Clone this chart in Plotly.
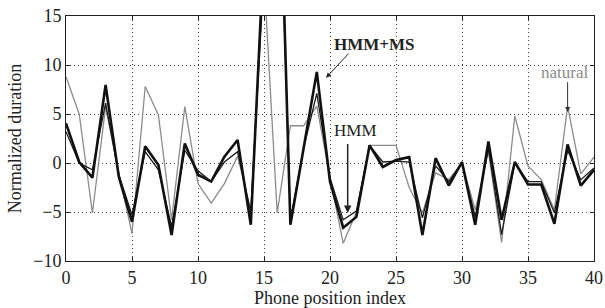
import plotly.graph_objects as go

positions = list(range(41))
natural = [8.8, 5.0, -5.1, 5.7, -1.0, -7.2, 7.8, 4.9, -5.8, 5.75,
           -2.1, -4.1, -2.1, 0.7, -4.8, 19.0, -5.1, 3.8, 3.8, 5.8,
           -1.5, -8.2, -5.0, 1.8, 1.8, 1.8, -2.5, -5.1, -1.0, -1.7,
           0.0, -4.8, 1.2, -8.1, 4.8, -0.3, -1.7, -4.8, 5.8, -1.1, 0.6]
hmm = [3.2, 0.0, -0.7, 6.1, -1.2, -5.3, 1.15, -0.7, -6.5, 1.3,
       -0.8, -1.9, 0.1, 1.15, -5.1, 20.0, 38.0, -5.8, 1.5, 7.1,
       -1.5, -5.8, -4.9, 1.8, 0.1, 0.2, 0.1, -5.6, -0.3, -1.9,
       0.0, -5.5, 1.5, -7.3, 0.0, -1.9, -1.9, -5.1, 1.3, -1.7, -0.5]
hmm_ms = [4.05, 0.1, -1.5, 7.96, -1.4, -6.0, 1.7, -0.2, -7.35, 2.0,
          -1.2, -1.9, 0.65, 2.35, -6.3, 22.0, 40.0, -6.3, 1.5, 9.3,
          -1.9, -6.6, -5.5, 1.8, -0.4, 0.3, 0.6, -7.35, 0.5, -2.3,
          0.1, -6.3, 2.2, -5.8, 0.1, -2.2, -2.2, -6.2, 1.9, -2.3, -0.7]
xticks = [0, 5, 10, 15, 20, 25, 30, 35, 40]
yticks = [-10, -5, 0, 5, 10, 15]

FONT = "Liberation Serif"
INK = "#222222"

fig = go.Figure()
fig.add_trace(go.Scatter(x=positions, y=natural, mode="lines", name="natural",
                         line=dict(color="#8c8c8c", width=1.3)))
fig.add_trace(go.Scatter(x=positions, y=hmm, mode="lines", name="HMM",
                         line=dict(color="#1a1a1a", width=1.3)))
fig.add_trace(go.Scatter(x=positions, y=hmm_ms, mode="lines", name="HMM+MS",
                         line=dict(color="#111111", width=2.6)))

axis_common = dict(showgrid=True, gridcolor="#444444", griddash="1px,3px", gridwidth=1,
                   showline=True, linecolor=INK, linewidth=1, mirror="ticks",
                   ticks="inside", ticklen=4, tickcolor=INK, automargin=False,
                   zeroline=False, tickfont=dict(family=FONT, size=18, color=INK))

fig.update_xaxes(range=[0, 40], tickvals=xticks, **axis_common,
                 title=dict(text="Phone position index", font=dict(family=FONT, size=18, color=INK),
                            standoff=4))
fig.update_yaxes(range=[-10, 15], tickvals=yticks, **axis_common,
                 title=dict(text="Normalized duration", font=dict(family=FONT, size=18, color=INK),
                            standoff=6))

# annotations
fig.add_annotation(x=19.7, y=8.7, ax=21.5, ay=11.3, axref="x", ayref="y",
                   text="", showarrow=True, arrowhead=2, arrowsize=1, arrowwidth=1, arrowcolor=INK)
fig.add_annotation(x=23.4, y=12.1, text="<b>HMM+MS</b>", showarrow=False,
                   font=dict(family=FONT, size=17, color=INK))
fig.add_annotation(x=21.34, y=-5.1, ax=21.34, ay=2.1, axref="x", ayref="y",
                   text="", showarrow=True, arrowhead=2, arrowsize=1, arrowwidth=1.5, arrowcolor=INK)
fig.add_annotation(x=21.9, y=3.3, text="HMM", showarrow=False,
                   font=dict(family=FONT, size=17, color=INK))
fig.add_annotation(x=38.0, y=5.2, ax=38.0, ay=8.4, axref="x", ayref="y",
                   text="", showarrow=True, arrowhead=2, arrowsize=1, arrowwidth=1, arrowcolor="#333333")
fig.add_annotation(x=37.8, y=9.2, text="natural", showarrow=False,
                   font=dict(family=FONT, size=17, color="#8c8c8c"))

fig.update_layout(width=605, height=308, showlegend=False,
                  plot_bgcolor="white", paper_bgcolor="white",
                  font=dict(family=FONT),
                  margin=dict(l=66, r=11, t=16, b=47))

fig.write_html("out.html", config={"displayModeBar": False},
               post_script="document.body.style.margin='0';document.body.style.overflow='hidden';")
